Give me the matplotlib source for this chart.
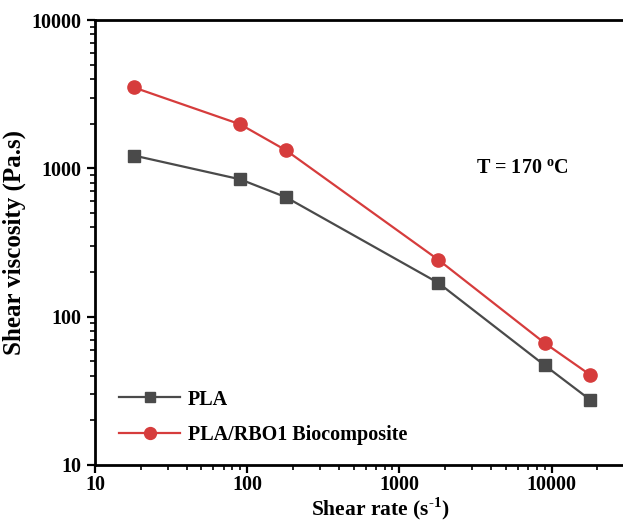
import matplotlib
matplotlib.use("Agg")
import matplotlib.pyplot as plt
from matplotlib.ticker import LogLocator, NullFormatter, FixedLocator, FixedFormatter

plt.rcParams['font.family'] = 'Liberation Serif'
plt.rcParams['font.weight'] = 'bold'
plt.rcParams['mathtext.fontset'] = 'custom'
plt.rcParams['mathtext.rm'] = 'Liberation Serif:bold'
plt.rcParams['mathtext.bf'] = 'Liberation Serif:bold'

# data
shear_rate = [18, 90, 180, 1800, 9000, 18000]
visc_pla = [1220, 843, 638, 169, 47, 27.4]
visc_rbo = [3510, 1980, 1322, 242, 66.4, 40.4]

x_ticks = [10, 100, 1000, 10000]
y_ticks = [10, 100, 1000, 10000]

fig = plt.figure(figsize=(6.23, 5.25), dpi=100)
ax = fig.add_axes([95 / 623, 60 / 525, 1 - 95 / 623 + 0.002, 445 / 525])

ax.plot(shear_rate, visc_pla, color='#4a4a4a', lw=1.6, marker='s', ms=8.5, label='PLA')
ax.plot(shear_rate, visc_rbo, color='#d63c3c', lw=1.6, marker='o', ms=9.5, label='PLA/RBO1 Biocomposite')

ax.set_xscale('log')
ax.set_yscale('log')
ax.set_xlim(10, 30000)
ax.set_ylim(10, 10000)

ax.xaxis.set_major_locator(FixedLocator(x_ticks))
ax.xaxis.set_major_formatter(FixedFormatter([str(t) for t in x_ticks]))
ax.yaxis.set_major_locator(FixedLocator(y_ticks))
ax.yaxis.set_major_formatter(FixedFormatter([str(t) for t in y_ticks]))
ax.xaxis.set_minor_locator(LogLocator(base=10, subs=range(2, 10)))
ax.yaxis.set_minor_locator(LogLocator(base=10, subs=range(2, 10)))
ax.xaxis.set_minor_formatter(NullFormatter())
ax.yaxis.set_minor_formatter(NullFormatter())

for s in ['left', 'bottom', 'top']:
    ax.spines[s].set_linewidth(2)
ax.spines['right'].set_visible(False)
ax.tick_params(which='major', direction='out', length=6, width=1.6, labelsize=14.5, top=False, right=False)
ax.tick_params(which='minor', direction='out', length=3.5, width=1.2, top=False, right=False)
ax.tick_params(axis='x', which='major', pad=1.5)

ax.set_xlabel('Shear rate (s$^{\\text{-}1}$)', fontsize=15.5, fontweight='bold')
ax.xaxis.set_label_coords(0.54, -0.068)
ax.set_ylabel('Shear viscosity (Pa.s)', fontsize=18, fontweight='bold', labelpad=4)

ax.text(0.72, 0.665, 'T = 170 $^{\\mathrm{o}}$C', transform=ax.transAxes, fontsize=14.5,
        fontweight='bold', va='center')

ax.legend(loc='lower left', bbox_to_anchor=(0.012, 0.005), frameon=False, fontsize=14.5,
          handlelength=3, handletextpad=0.4, labelspacing=0.75, markerscale=0.9)

fig.savefig('out.png', dpi=100)
